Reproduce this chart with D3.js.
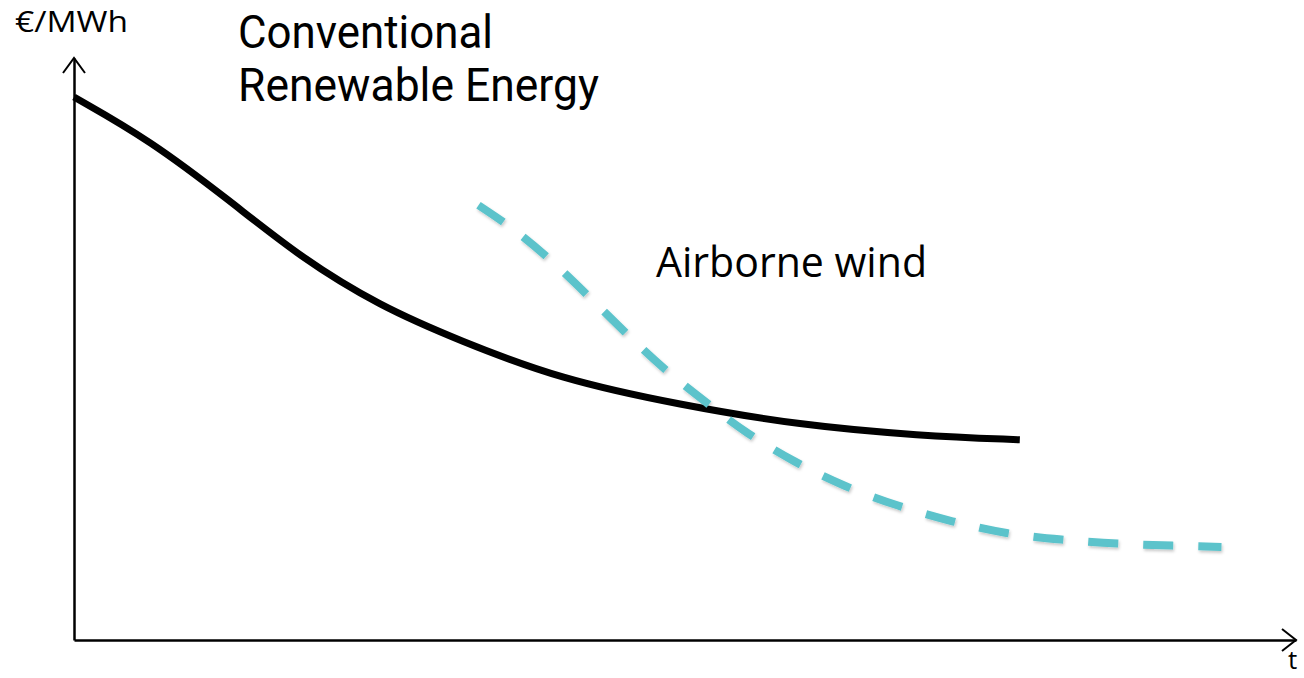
<!DOCTYPE html>
<html>
<head>
<meta charset="utf-8">
<script src="https://cdn.jsdelivr.net/npm/d3@7"></script>
<style>
  html, body { margin: 0; padding: 0; background: #fff; overflow: hidden; }
  text { font-family: "Open Sans", "Noto Sans", sans-serif; fill: #000; }
  .title { font-family: Roboto, "Open Sans", sans-serif; }
</style>
</head>
<body>
<div id="chart"></div>
<script>
// Sketch data (arbitrary units, 0-100 on both axes)
const conventionalT = [0, 6.2, 12.8, 18.5, 25.0, 31.6, 39.8, 49.6, 59.4, 69.2, 77.4];
const conventionalCost = [93.3, 85.9, 75.4, 65.8, 57.4, 51.4, 44.8, 40.4, 36.9, 35.1, 34.4];

const airborneT = [33.1, 35.7, 38.8, 42.1, 45.3, 48.6, 52.3, 54.9, 58.9, 63.1, 67.4, 71.9, 76.3, 80.8, 85.4, 90.0, 93.9];
const airborneCost = [74.7, 71.1, 65.8, 59.1, 52.4, 45.9, 39.9, 35.7, 30.6, 26.3, 23.0, 20.3, 18.2, 17.2, 16.5, 16.2, 16.0];

const width = 1304, height = 678;

const svg = d3.select('#chart')
  .append('svg')
  .attr('width', width)
  .attr('height', height);

const defs = svg.append('defs');
defs.append('filter')
  .attr('id', 'shadow')
  .attr('x', '-5%').attr('y', '-5%').attr('width', '110%').attr('height', '110%')
  .append('feDropShadow')
  .attr('dx', 1).attr('dy', 2).attr('stdDeviation', 1.5)
  .attr('flood-color', '#000').attr('flood-opacity', 0.22);

const x = d3.scaleLinear().domain([0, 100]).range([74, 1296]);
const y = d3.scaleLinear().domain([0, 100]).range([640, 58]);

// Axes (no ticks, just the lines)
svg.append('g')
  .attr('transform', `translate(0,${y(0)})`)
  .call(d3.axisBottom(x).ticks(0).tickSizeOuter(0))
  .call(g => g.select('.domain').attr('stroke-width', 2.5));
svg.append('g')
  .attr('transform', `translate(${x(0)},0)`)
  .call(d3.axisLeft(y).ticks(0).tickSizeOuter(0))
  .call(g => g.select('.domain').attr('stroke-width', 2.5));

// Arrow heads
const arrow = d3.line();
svg.append('path')
  .attr('d', arrow([[x(0) - 11, y(100) + 15], [x(0), y(100)], [x(0) + 11, y(100) + 15]]))
  .attr('fill', 'none').attr('stroke', '#000').attr('stroke-width', 2);
svg.append('path')
  .attr('d', arrow([[x(100) - 14, y(0) - 11], [x(100), y(0)], [x(100) - 14, y(0) + 11]]))
  .attr('fill', 'none').attr('stroke', '#000').attr('stroke-width', 2);

const line = d3.line()
  .x(d => x(d[0]))
  .y(d => y(d[1]))
  .curve(d3.curveBasis);

// Conventional renewable energy
svg.append('path')
  .datum(d3.zip(conventionalT, conventionalCost))
  .attr('d', line)
  .attr('fill', 'none')
  .attr('stroke', '#000')
  .attr('stroke-width', 7);

// Airborne wind
svg.append('path')
  .datum(d3.zip(airborneT, airborneCost))
  .attr('d', line)
  .attr('fill', 'none')
  .attr('stroke', '#5bc3cb')
  .attr('stroke-width', 8)
  .attr('stroke-dasharray', '30 25')
  .attr('filter', 'url(#shadow)');

// Labels
svg.append('text').attr('x', 15).attr('y', 32).attr('font-size', 30)
  .attr('textLength', 113).attr('lengthAdjust', 'spacingAndGlyphs').text('€/MWh');
svg.append('text').attr('class', 'title').attr('x', 238).attr('y', 48).attr('font-size', 46)
  .attr('textLength', 255).attr('lengthAdjust', 'spacingAndGlyphs').text('Conventional');
svg.append('text').attr('class', 'title').attr('x', 238).attr('y', 101).attr('font-size', 46)
  .attr('textLength', 361).attr('lengthAdjust', 'spacingAndGlyphs').text('Renewable Energy');
svg.append('text').attr('x', 656).attr('y', 277).attr('font-size', 42)
  .attr('textLength', 271).attr('lengthAdjust', 'spacingAndGlyphs').text('Airborne wind');
svg.append('text').attr('x', 1288).attr('y', 669).attr('font-size', 26).text('t');
</script>
</body>
</html>
